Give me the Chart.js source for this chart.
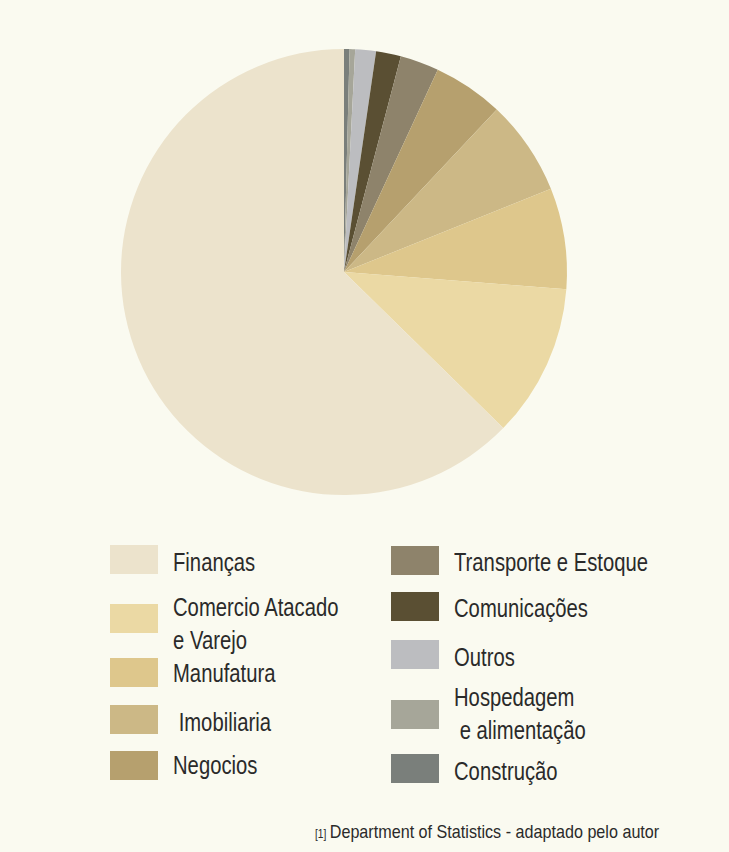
<!DOCTYPE html>
<html lang="pt">
<head>
  <meta charset="UTF-8" />
  <title>Setores</title>
  <script src="https://cdn.jsdelivr.net/npm/chart.js@4.4.1"></script>
  <style>
    body { margin:0; background:#fafaf0; font-family:"Liberation Sans",Arial,sans-serif; color:#2a2a2a; }
    .page { position:relative; width:729px; height:852px; overflow:hidden; }
    #pie { position:absolute; left:113px; top:41px; }
    .sw { position:absolute; width:48px; height:29px; }
    .txt { position:absolute; font-size:25px; line-height:33px; white-space:pre; transform:scaleX(0.81); transform-origin:0 0; }
    /* legend placement */
    #s0{left:110px;top:545px} #t0{left:173px;top:546px}
    #s1{left:110px;top:604px} #t1{left:173px;top:591px}
    #s2{left:110px;top:658px} #t2{left:173px;top:657px}
    #s3{left:110px;top:705px} #t3{left:173px;top:706px}
    #s4{left:110px;top:751px} #t4{left:173px;top:749px}
    #s5{left:391px;top:546px} #t5{left:454px;top:546px}
    #s6{left:391px;top:592px} #t6{left:454px;top:592px}
    #s7{left:391px;top:640px} #t7{left:454px;top:641px}
    #s8{left:391px;top:700px} #t8{left:454px;top:681px}
    #s9{left:391px;top:754px} #t9{left:454px;top:755px}
    .note { position:absolute; left:315px; top:820px; font-size:19px; line-height:24px; white-space:nowrap; transform:scaleX(0.85); transform-origin:0 0; }
    .note small { font-size:12px; margin-right:4px; }
  </style>
</head>
<body>
<div class="page" id="page">
  <canvas id="pie" width="462" height="462"></canvas>
  <div class="note"><small>[1]</small>Department of Statistics - adaptado pelo autor</div>
</div>

<script>
  // legend order; the pie is drawn in the reverse order (clockwise from top)
  var labels = ['Finanças','Comercio Atacado\ne Varejo','Manufatura',' Imobiliaria','Negocios',
                'Transporte e Estoque','Comunicações','Outros','Hospedagem\n e alimentação','Construção'];
  var values = [62.6, 11.1, 7.3, 6.9, 5.1, 2.8, 1.8, 1.5, 0.4, 0.4];
  var colors = ['#ece3cc','#ebd9a4','#dec78c','#ccb886','#b6a06e',
                '#8e836b','#5a4f33','#bcbdc0','#a6a699','#7a7f7b'];

  new Chart(document.getElementById('pie'), {
    type:'pie',
    data:{
      labels: labels.slice().reverse(),
      datasets:[{ data: values.slice().reverse(), backgroundColor: colors.slice().reverse(), borderWidth:0 }]
    },
    options:{
      responsive:false, animation:false,
      layout:{ padding:8 },
      plugins:{ legend:{ display:false }, tooltip:{ enabled:false } }
    }
  });

  var page = document.getElementById('page');
  for (var i = 0; i < labels.length; i++) {
    var sw = document.createElement('div');
    sw.className = 'sw'; sw.id = 's'+i; sw.style.background = colors[i];
    var tx = document.createElement('div');
    tx.className = 'txt'; tx.id = 't'+i; tx.textContent = labels[i];
    page.appendChild(sw); page.appendChild(tx);
  }
</script>
</body>
</html>
